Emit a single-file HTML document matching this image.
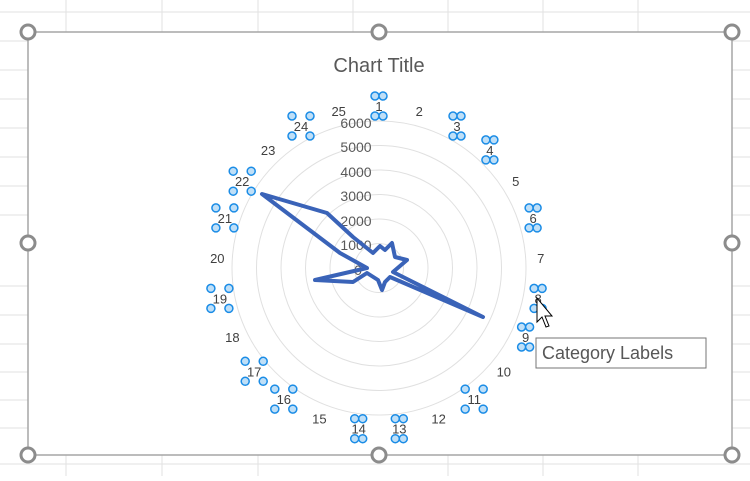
<!DOCTYPE html>
<html><head><style>
body{margin:0;width:750px;height:476px;overflow:hidden;background:#fff;font-family:"Liberation Sans",sans-serif}
</style></head><body>
<svg id="s" width="750" height="476" xmlns="http://www.w3.org/2000/svg" font-family="Liberation Sans, sans-serif">
<g stroke="#e2e2e2" stroke-width="1">
<line x1="0" y1="12" x2="750" y2="12"/><line x1="0" y1="41" x2="750" y2="41"/><line x1="0" y1="70" x2="28" y2="70"/><line x1="0" y1="99" x2="28" y2="99"/><line x1="0" y1="128" x2="28" y2="128"/><line x1="0" y1="157" x2="28" y2="157"/><line x1="0" y1="186" x2="28" y2="186"/><line x1="0" y1="215" x2="28" y2="215"/><line x1="0" y1="286" x2="28" y2="286"/><line x1="0" y1="315" x2="28" y2="315"/><line x1="0" y1="344" x2="28" y2="344"/><line x1="0" y1="372" x2="28" y2="372"/><line x1="0" y1="400" x2="28" y2="400"/><line x1="0" y1="428" x2="28" y2="428"/><line x1="0" y1="464" x2="750" y2="464"/>
<line x1="732" y1="70" x2="750" y2="70"/><line x1="732" y1="99" x2="750" y2="99"/><line x1="732" y1="128" x2="750" y2="128"/><line x1="732" y1="157" x2="750" y2="157"/><line x1="732" y1="186" x2="750" y2="186"/><line x1="732" y1="215" x2="750" y2="215"/><line x1="732" y1="286" x2="750" y2="286"/><line x1="732" y1="315" x2="750" y2="315"/><line x1="732" y1="344" x2="750" y2="344"/><line x1="732" y1="372" x2="750" y2="372"/><line x1="732" y1="400" x2="750" y2="400"/><line x1="732" y1="428" x2="750" y2="428"/>
<line x1="66" y1="0" x2="66" y2="32"/><line x1="162" y1="0" x2="162" y2="32"/><line x1="258" y1="0" x2="258" y2="32"/><line x1="353" y1="0" x2="353" y2="32"/><line x1="448" y1="0" x2="448" y2="32"/><line x1="543" y1="0" x2="543" y2="32"/><line x1="638" y1="0" x2="638" y2="32"/>
<line x1="66" y1="455" x2="66" y2="476"/><line x1="162" y1="455" x2="162" y2="476"/><line x1="258" y1="455" x2="258" y2="476"/><line x1="448" y1="455" x2="448" y2="476"/><line x1="543" y1="455" x2="543" y2="476"/><line x1="638" y1="455" x2="638" y2="476"/>
</g>
<rect x="28" y="32" width="704" height="423" fill="#fff" stroke="#a6a6a6" stroke-width="1.5"/>
<text x="379" y="72" text-anchor="middle" font-size="20" fill="#595959">Chart Title</text>
<g id="rings" fill="none" stroke="#e0e0e0" stroke-width="1"></g>
<g font-size="14" fill="#595959" text-anchor="middle">
<text x="356" y="128">6000</text><text x="356" y="152">5000</text><text x="356" y="177">4000</text><text x="356" y="201">3000</text><text x="356" y="226">2000</text><text x="356" y="250">1000</text><text x="358" y="275">0</text>
</g>
<polygon points="262,194 327,213 353,237 373,253 380,246 385,250 392,243 395,257 407,260 393,272 483,317 390,277 385,282 382,290 378,280 367,273 353,282 315,280 367,268 340,253" fill="none" stroke="#3a63b8" stroke-width="4" stroke-linejoin="round"/>
<g id="labs" font-size="13" fill="#404040" text-anchor="middle"></g>
<g id="hand" fill="#bfdff7" stroke="#1a8ce6" stroke-width="1.5"></g>
<g fill="#fff" stroke="#8c8c8c" stroke-width="3">
<circle cx="28" cy="32" r="7"/><circle cx="379" cy="32" r="7"/><circle cx="732" cy="32" r="7"/><circle cx="28" cy="243" r="7"/><circle cx="732" cy="243" r="7"/><circle cx="28" cy="455" r="7"/><circle cx="379" cy="455" r="7"/><circle cx="732" cy="455" r="7"/>
</g>
<path d="M537,298 L537,322 L542,317 L546,327 L549,326 L545,316 L552,316 Z" fill="#fff" stroke="#000" stroke-width="1"/>
<rect x="536" y="338" width="170" height="30" fill="#fff" stroke="#767676"/>
<text x="542" y="359" font-size="18" fill="#575757">Category Labels</text>
</svg>
<script>
var ns="http://www.w3.org/2000/svg",cx=379,cy=268;
var rings=document.getElementById("rings");
for(var i=1;i<=6;i++){var c=document.createElementNS(ns,"circle");c.setAttribute("cx",cx);c.setAttribute("cy",cy);c.setAttribute("r",i*24.5);rings.appendChild(c);}
var sel=[1,3,4,6,8,9,11,13,14,16,17,19,21,22,24];
var labs=document.getElementById("labs"),hand=document.getElementById("hand");
for(var k=1;k<=25;k++){var a=(k-1)*14.4*Math.PI/180,r=162;var x=cx+r*Math.sin(a),y=cy-r*Math.cos(a)+5;
var t=document.createElementNS(ns,"text");t.setAttribute("x",x.toFixed(1));t.setAttribute("y",y.toFixed(1));t.textContent=k;labs.appendChild(t);
if(sel.indexOf(k)>=0){var pts=[[-4,-17],[4,-17],[-4,3],[4,3]];if(k==22||k==24||k==17||k==16||k==11||k==21||k==19){pts=[[-9,-17],[9,-17],[-9,3],[9,3]];}
pts.forEach(function(p){var c=document.createElementNS(ns,"circle");c.setAttribute("cx",(x+p[0]).toFixed(1));c.setAttribute("cy",(y-5+p[1]+7).toFixed(1));c.setAttribute("r",4);hand.appendChild(c);});}}
</script>
</body></html>
